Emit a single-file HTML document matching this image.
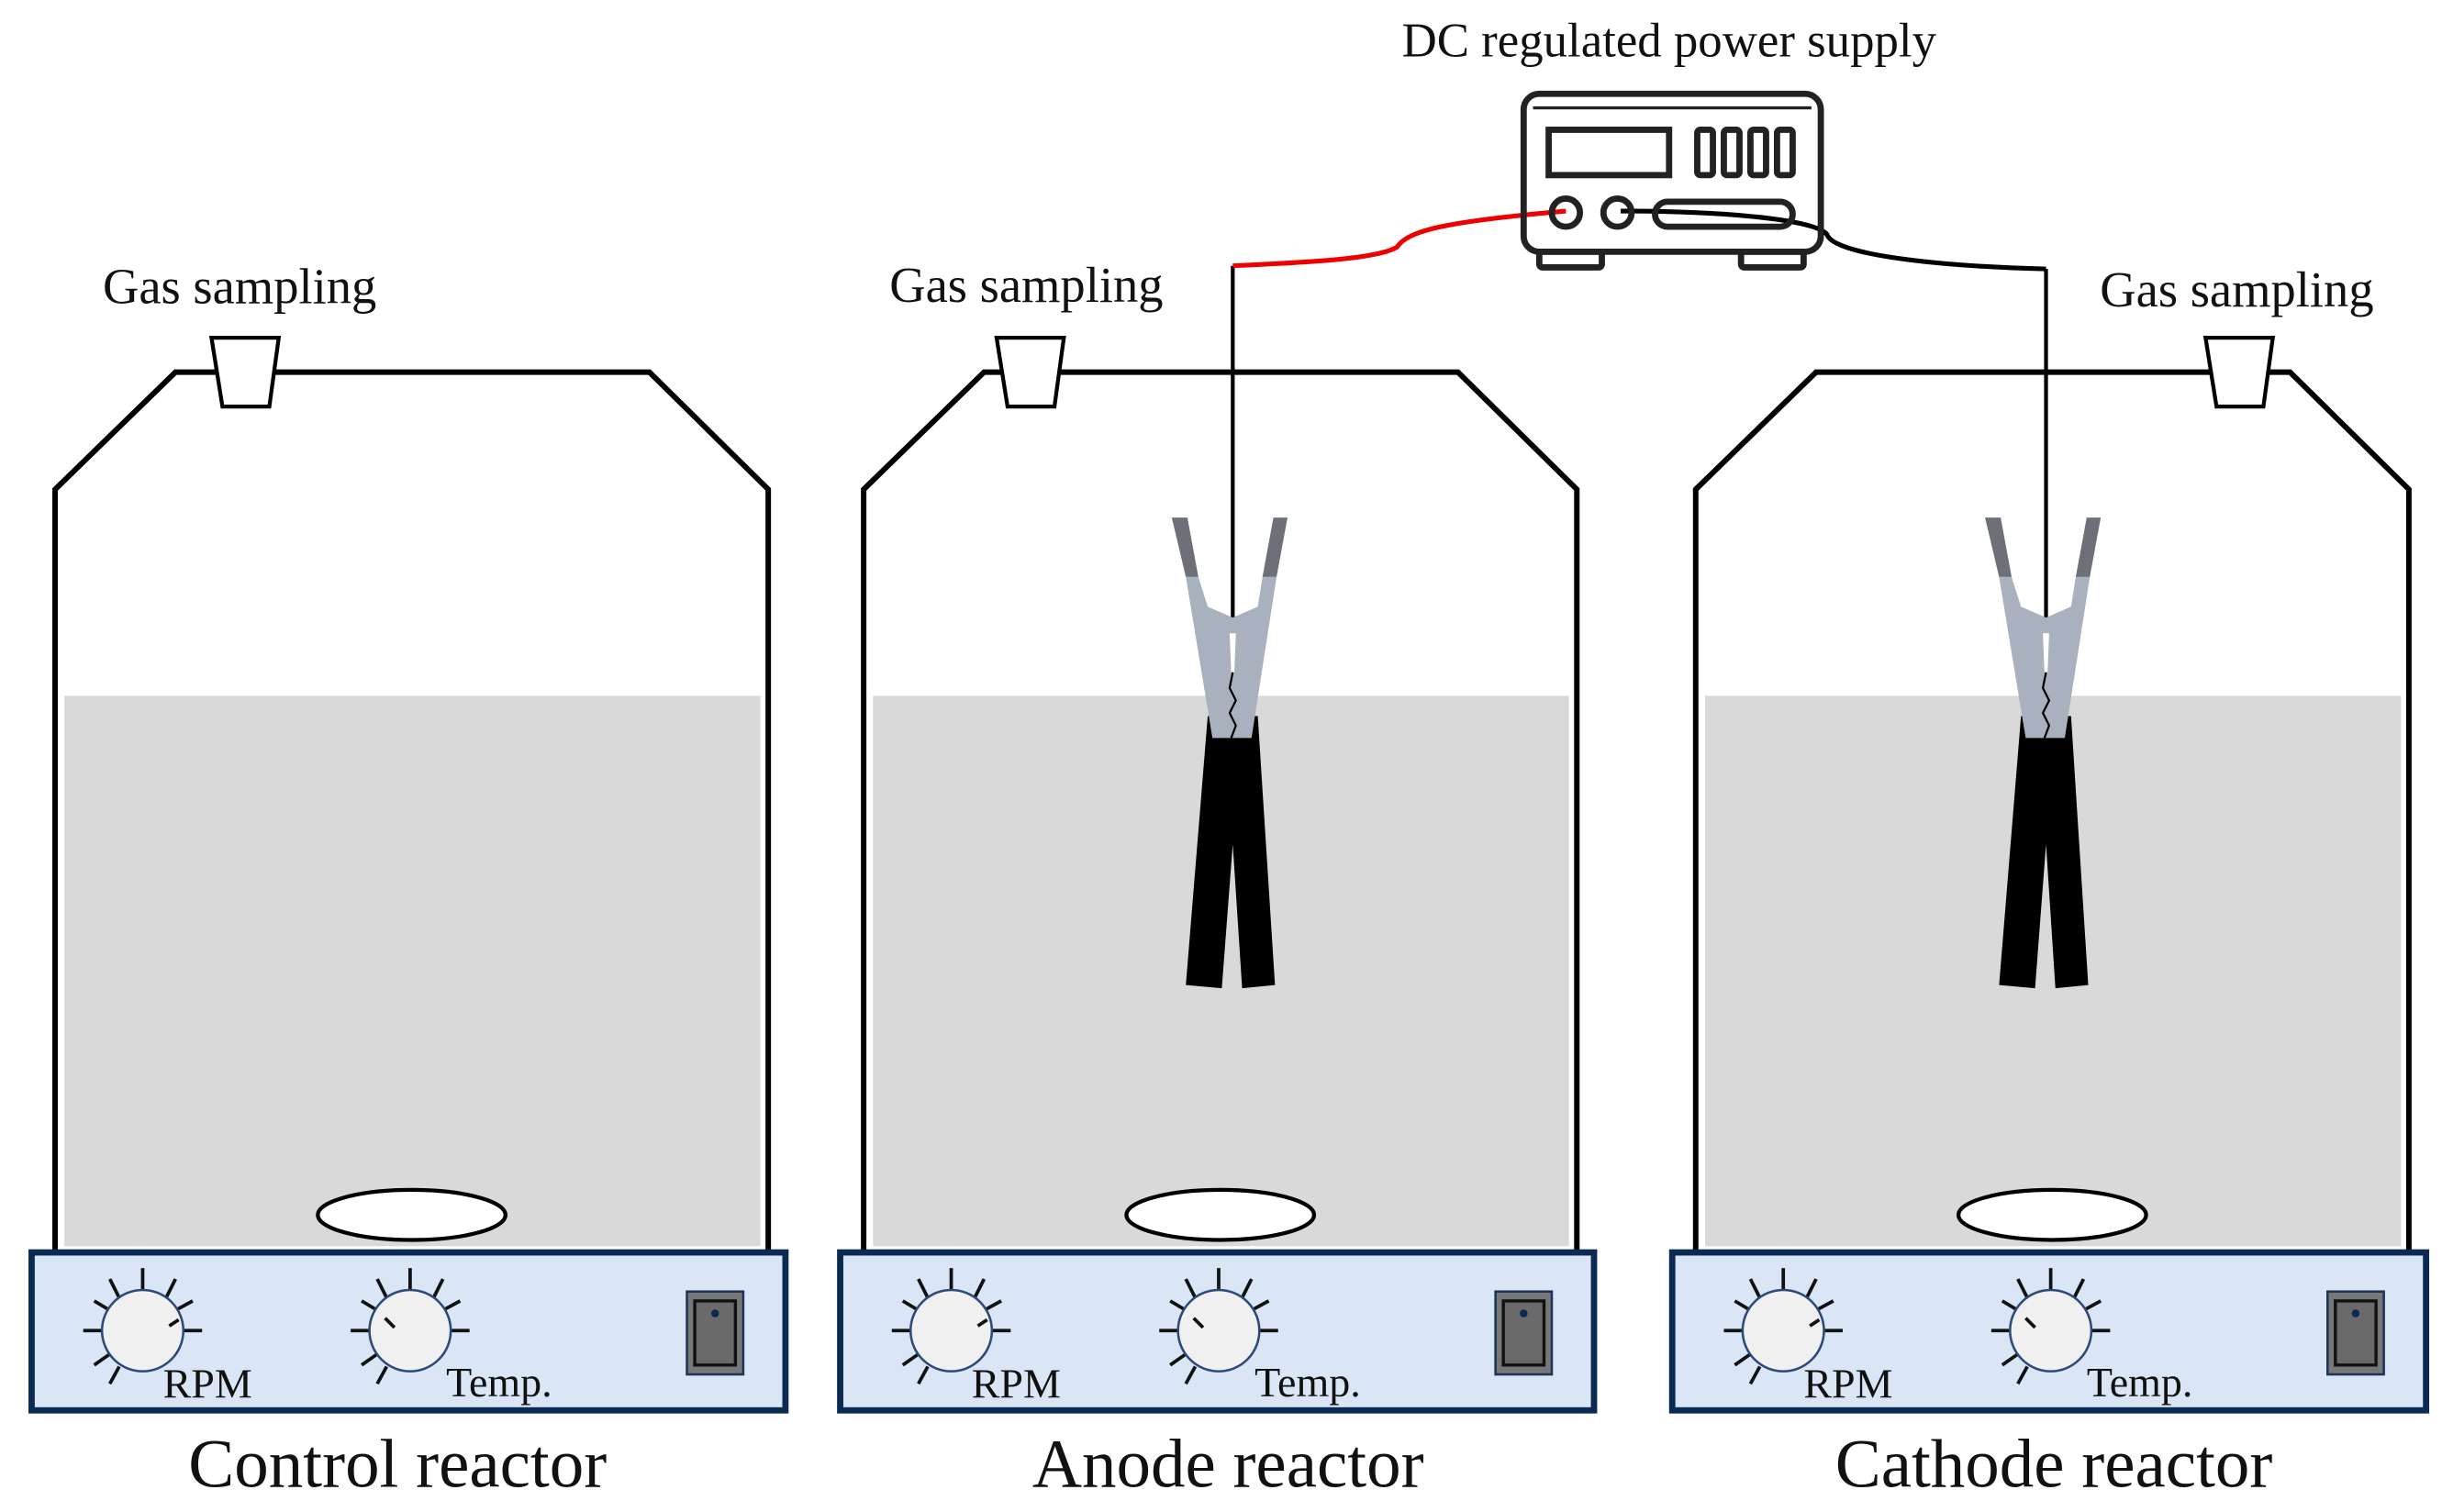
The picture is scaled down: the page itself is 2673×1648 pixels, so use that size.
<!DOCTYPE html>
<html><head><meta charset="utf-8"><style>
html,body{margin:0;padding:0;background:#fff;}
svg{display:block;}
</style></head><body>
<svg width="2673" height="1648" viewBox="0 0 1568 967" xmlns="http://www.w3.org/2000/svg" font-family="'Liberation Serif', serif">
<defs>
<g id="reactor">
  <rect x="41" y="445" width="445" height="352" fill="#d9d9d9"/>
  <polyline points="35,800 35,313 112,238 415,238 491,313 491,800" fill="none" stroke="#000" stroke-width="3.5"/>
  <ellipse cx="263" cy="777" rx="60" ry="16" fill="#fff" stroke="#000" stroke-width="2.5"/>
  <rect x="20" y="801" width="482" height="101" fill="#dae6f6" stroke="#0b2a52" stroke-width="4"/>
  <g stroke="#111" stroke-width="2.2">
    <line x1="66" y1="851" x2="53" y2="851"/><line x1="116" y1="851" x2="129" y2="851"/>
    <line x1="91" y1="826" x2="91" y2="811"/>
    <line x1="76" y1="830" x2="70" y2="818"/><line x1="106" y1="830" x2="112" y2="818"/>
    <line x1="70" y1="838" x2="60" y2="832"/><line x1="112" y1="838" x2="123" y2="832"/>
    <line x1="70" y1="866" x2="60" y2="873"/><line x1="76" y1="874" x2="70" y2="885"/>
    <line x1="237" y1="851" x2="224" y2="851"/><line x1="287" y1="851" x2="300" y2="851"/>
    <line x1="262" y1="826" x2="262" y2="811"/>
    <line x1="247" y1="830" x2="241" y2="818"/><line x1="277" y1="830" x2="283" y2="818"/>
    <line x1="241" y1="838" x2="231" y2="832"/><line x1="283" y1="838" x2="294" y2="832"/>
    <line x1="241" y1="866" x2="231" y2="873"/><line x1="247" y1="874" x2="241" y2="885"/>
  </g>
  <circle cx="91" cy="851" r="26" fill="#f0f0f0" stroke="#2b4a78" stroke-width="1.5"/>
  <circle cx="262" cy="851" r="26" fill="#f0f0f0" stroke="#2b4a78" stroke-width="1.5"/>
  <line x1="108" y1="848" x2="114" y2="844" stroke="#111" stroke-width="2.2"/>
  <line x1="246" y1="843" x2="252" y2="849" stroke="#111" stroke-width="2.2"/>
  <text x="104" y="894" font-size="27" font-family="'Liberation Serif', serif" fill="#111">RPM</text>
  <text x="285" y="893" font-size="27" font-family="'Liberation Serif', serif" fill="#111">Temp.</text>
  <rect x="439" y="826" width="36" height="53" fill="#777" stroke="#1d3557" stroke-width="1.5"/>
  <rect x="444" y="832" width="26" height="41" fill="#6a6a6a" stroke="#111" stroke-width="2"/>
  <circle cx="457" cy="840" r="2.5" fill="#0b2a52"/>
</g>
<polygon id="stopper" points="0,216 43,216 37,260 7,260" fill="#fff" stroke="#000" stroke-width="2.5"/>
<g id="clip">
  <polygon points="749,331 759,331 766,369 758,369" fill="#6e7078"/>
  <polygon points="814,331 823,331 816,369 807,369" fill="#6e7078"/>
  <polygon points="772,458 804,458 815,630 794,632 788,540 781,632 758,630" fill="#000"/>
  <polygon points="758,369 766,369 772,388 788,395 804,388 807,369 816,369 800,472 775,472" fill="#a9b1bf"/>
  <polygon points="786,405 790,405 789,430 787,430" fill="#fff"/>
  <polyline points="788,430 786,440 790,448 786,456 790,464 787,472" fill="none" stroke="#000" stroke-width="1.3"/>
</g>
</defs>
<use href="#reactor"/>
<use href="#reactor" transform="translate(517,0)"/>
<use href="#reactor" transform="translate(1049,0)"/>
<use href="#stopper" transform="translate(135,0)"/>
<use href="#stopper" transform="translate(637,0)"/>
<use href="#stopper" transform="translate(1410,0)"/>

<!-- wires -->
<line x1="788" y1="170" x2="788" y2="395" stroke="#000" stroke-width="2.5"/>
<line x1="1308" y1="172" x2="1308" y2="395" stroke="#000" stroke-width="2.5"/>
<path d="M788,170 C830,168 880,166 893,158 C900,148 920,142 1001,135" fill="none" stroke="#e00" stroke-width="3"/>
<path d="M1036,135 C1100,135 1160,140 1168,150 C1172,162 1230,170 1308,172" fill="none" stroke="#000" stroke-width="3"/>

<use href="#clip"/>
<use href="#clip" transform="translate(520,0)"/>

<!-- power supply -->
<g fill="none" stroke="#222" stroke-width="4">
  <rect x="974" y="60" width="190" height="101" rx="10"/>
  <line x1="980" y1="69" x2="1158" y2="69" stroke-width="2"/>
  <rect x="990" y="83" width="77" height="29"/>
  <rect x="1085" y="83" width="10" height="29" rx="2"/><rect x="1102" y="83" width="10" height="29" rx="2"/>
  <rect x="1119" y="83" width="10" height="29" rx="2"/><rect x="1136" y="83" width="10" height="29" rx="2"/>
  <circle cx="1001" cy="136" r="9"/><circle cx="1034" cy="136" r="9"/>
  <rect x="1058" y="129" width="88" height="16" rx="8"/>
  <rect x="984" y="161" width="40" height="10" rx="2"/><rect x="1113" y="161" width="40" height="10" rx="2"/>
</g>

<g font-family="'Liberation Serif', serif" fill="#111">
<text x="1067" y="36" font-size="31" text-anchor="middle">DC regulated power supply</text>
<text x="153" y="194" font-size="32" text-anchor="middle">Gas sampling</text>
<text x="656" y="193" font-size="32" text-anchor="middle">Gas sampling</text>
<text x="1430" y="196" font-size="32" text-anchor="middle">Gas sampling</text>
<text x="254" y="951" font-size="44" text-anchor="middle">Control reactor</text>
<text x="785" y="951" font-size="44" text-anchor="middle">Anode reactor</text>
<text x="1313" y="951" font-size="44" text-anchor="middle">Cathode reactor</text>
</g>
</svg>
</body></html>
